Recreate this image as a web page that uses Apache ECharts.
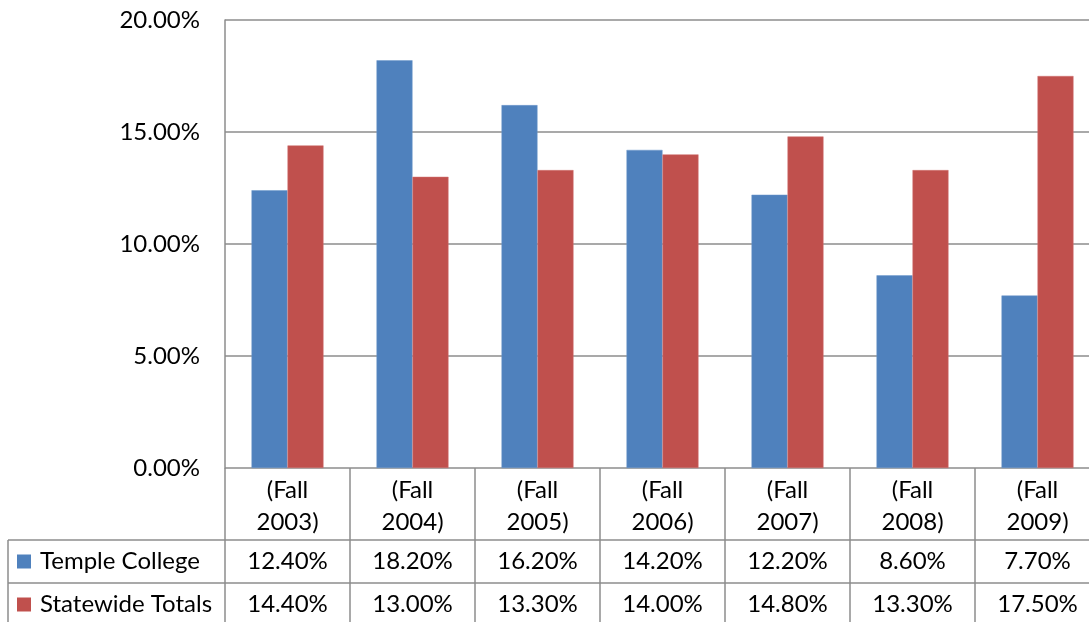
<!DOCTYPE html>
<html><head><meta charset="utf-8">
<script src="https://cdn.jsdelivr.net/npm/echarts@6/dist/echarts.min.js"></script>
<style>html,body{margin:0;padding:0;background:#fff}#c{width:1089px;height:622px}</style>
</head><body><div id="c"></div>
<script>
const categories = ['(Fall 2003)','(Fall 2004)','(Fall 2005)','(Fall 2006)','(Fall 2007)','(Fall 2008)','(Fall 2009)'];
const seriesNames = ['Temple College','Statewide Totals'];
const templeCollege = [12.4, 18.2, 16.2, 14.2, 12.2, 8.6, 7.7];
const statewideTotals = [14.4, 13.0, 13.3, 14.0, 14.8, 13.3, 17.5];
const colors = ['#4F81BD','#C0504D'];
const FONT = 'Lato';
const FS = 24;
const LINE = '#8c8c8c';

const chart = echarts.init(document.getElementById('c'), null, {renderer:'canvas'});
const option = {
  animation:false,
  backgroundColor:'#fff',
  textStyle:{fontFamily:FONT},
  grid:{left:225, top:20, right:-11, height:448, containLabel:false, outerBoundsMode:'none'},
  xAxis:{type:'category', data:categories,
    axisLine:{show:false}, axisTick:{show:false},
    axisLabel:{color:'#000', fontFamily:FONT, fontSize:FS, lineHeight:32, margin:6, interval:0,
      formatter:v=>v.replace(' ','\n')}},
  yAxis:{type:'value', min:0, max:20, interval:5,
    axisLine:{show:true, lineStyle:{color:LINE, width:1.5}},
    axisTick:{show:false},
    splitLine:{lineStyle:{color:LINE, width:1.5}},
    axisLabel:{color:'#000', fontFamily:FONT, fontSize:FS, margin:25, formatter:v=>v.toFixed(2)+'%'}},
  series:[
    {name:seriesNames[0], type:'bar', data:templeCollege, barWidth:36, barGap:'0%',
      itemStyle:{color:colors[0], borderColor:'#6f98cc', borderWidth:0.5}},
    {name:seriesNames[1], type:'bar', data:statewideTotals, barWidth:36, barGap:'0%',
      itemStyle:{color:colors[1], borderColor:'#d07370', borderWidth:0.5}}
  ]
};
chart.setOption(option);

// Data table drawn below the plot, positioned via the category axis
const c0 = chart.convertToPixel({xAxisIndex:0}, 0);
const c1 = chart.convertToPixel({xAxisIndex:0}, 1);
const band = c1 - c0;
const y0 = chart.convertToPixel({yAxisIndex:0}, 0);
const rowTop = [y0 + 72, y0 + 115];
const rowH = 43;
const tableLeft = 8;
const lastRight = chart.convertToPixel({xAxisIndex:0}, categories.length-1) + band/2;
const g = [];
const ls = {stroke:LINE, lineWidth:1.5};
[rowTop[0], rowTop[1], rowTop[1]+rowH].forEach(y=>{
  g.push({type:'line', shape:{x1:tableLeft, y1:y, x2:lastRight, y2:y}, style:ls, silent:true});
});
g.push({type:'line', shape:{x1:tableLeft, y1:rowTop[0], x2:tableLeft, y2:rowTop[1]+rowH}, style:ls});
for (let i=0;i<=categories.length;i++){
  const x = c0 - band/2 + i*band;
  g.push({type:'line', shape:{x1:x, y1:y0, x2:x, y2:rowTop[1]+rowH}, style:ls});
}
const rows = [templeCollege, statewideTotals];
rows.forEach((vals, r)=>{
  const cy = rowTop[r] + rowH/2;
  g.push({type:'rect', shape:{x:17, y:cy-7, width:14, height:14}, style:{fill:colors[r]}});
  g.push({type:'text', x:40, y:cy, style:{text:seriesNames[r], fill:'#000', font:FS+'px '+FONT, textAlign:'left', textVerticalAlign:'middle'}});
  vals.forEach((v,i)=>{
    const cx = chart.convertToPixel({xAxisIndex:0}, i);
    g.push({type:'text', x:cx, y:cy, style:{text:v.toFixed(2)+'%', fill:'#000', font:FS+'px '+FONT, textAlign:'center', textVerticalAlign:'middle'}});
  });
});
chart.setOption({graphic:{elements:g}});
</script>
</body></html>
